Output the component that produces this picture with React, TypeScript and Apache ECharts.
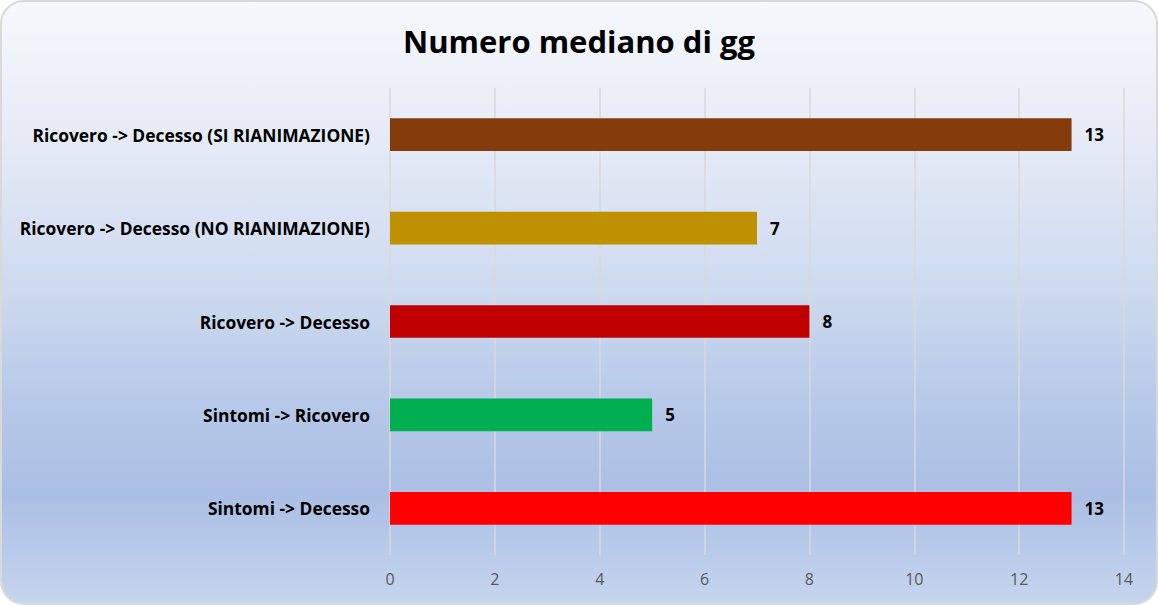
import { useRef, useEffect } from 'react'
import * as echarts from 'echarts'

const categories = [
  'Sintomi -> Decesso',
  'Sintomi -> Ricovero',
  'Ricovero -> Decesso',
  'Ricovero -> Decesso (NO RIANIMAZIONE)',
  'Ricovero -> Decesso (SI RIANIMAZIONE)',
]
const values = [13, 5, 8, 7, 13]
const barColors = ['#FF0000', '#00B050', '#C00000', '#BF9000', '#843C0C']

const FONT = 'Open Sans'

export default function App() {
  const chartRef = useRef<HTMLDivElement>(null)

  useEffect(() => {
    if (!chartRef.current) return
    const chart = echarts.init(chartRef.current, undefined, { renderer: 'svg' })

    const option: echarts.EChartsOption = {
      animation: false,
      backgroundColor: 'transparent',
      title: {
        text: 'Numero mediano di gg',
        left: 'center',
        top: 20,
        textStyle: { fontFamily: FONT, fontSize: 31, fontWeight: 'bold', color: '#000' },
      },
      grid: { left: 390, right: 34, top: 88, bottom: 50, containLabel: false },
      xAxis: {
        type: 'value',
        min: 0,
        max: 14,
        interval: 2,
        axisLine: { show: false },
        axisTick: { show: false },
        axisLabel: { fontFamily: FONT, fontSize: 16, color: '#595959', margin: 16 },
        splitLine: { lineStyle: { color: '#d9d9d9', width: 1.5 } },
      },
      yAxis: {
        type: 'category',
        data: categories,
        axisLine: { show: false },
        axisTick: { show: false },
        axisLabel: { fontFamily: FONT, fontSize: 17.4, fontWeight: 'bold', color: '#000', margin: 20 },
      },
      series: [
        {
          type: 'bar',
          barWidth: '35%',
          data: values.map((v, i) => ({ value: v, itemStyle: { color: barColors[i] } })),
          label: {
            show: true,
            position: 'right',
            distance: 13,
            fontFamily: FONT,
            fontSize: 17,
            fontWeight: 'bold',
            color: '#000',
          },
        },
      ],
    }

    chart.setOption(option)
    return () => chart.dispose()
  }, [])

  return (
    <div
      style={{
        position: 'absolute',
        left: 0,
        top: 0,
        width: 1158,
        height: 605,
        boxSizing: 'border-box',
        border: '2px solid #d9d9d9',
        borderRadius: 24,
        overflow: 'hidden',
        background:
          'linear-gradient(to bottom, #f6f8fc 0%, #e6ebf6 22%, #d0dcf0 45%, #b6c8e8 68%, #aabfe4 82%, #c6d5ee 100%)',
      }}
    >
      <div ref={chartRef} style={{ position: 'absolute', left: -2, top: -2, width: 1158, height: 605 }} />
    </div>
  )
}
